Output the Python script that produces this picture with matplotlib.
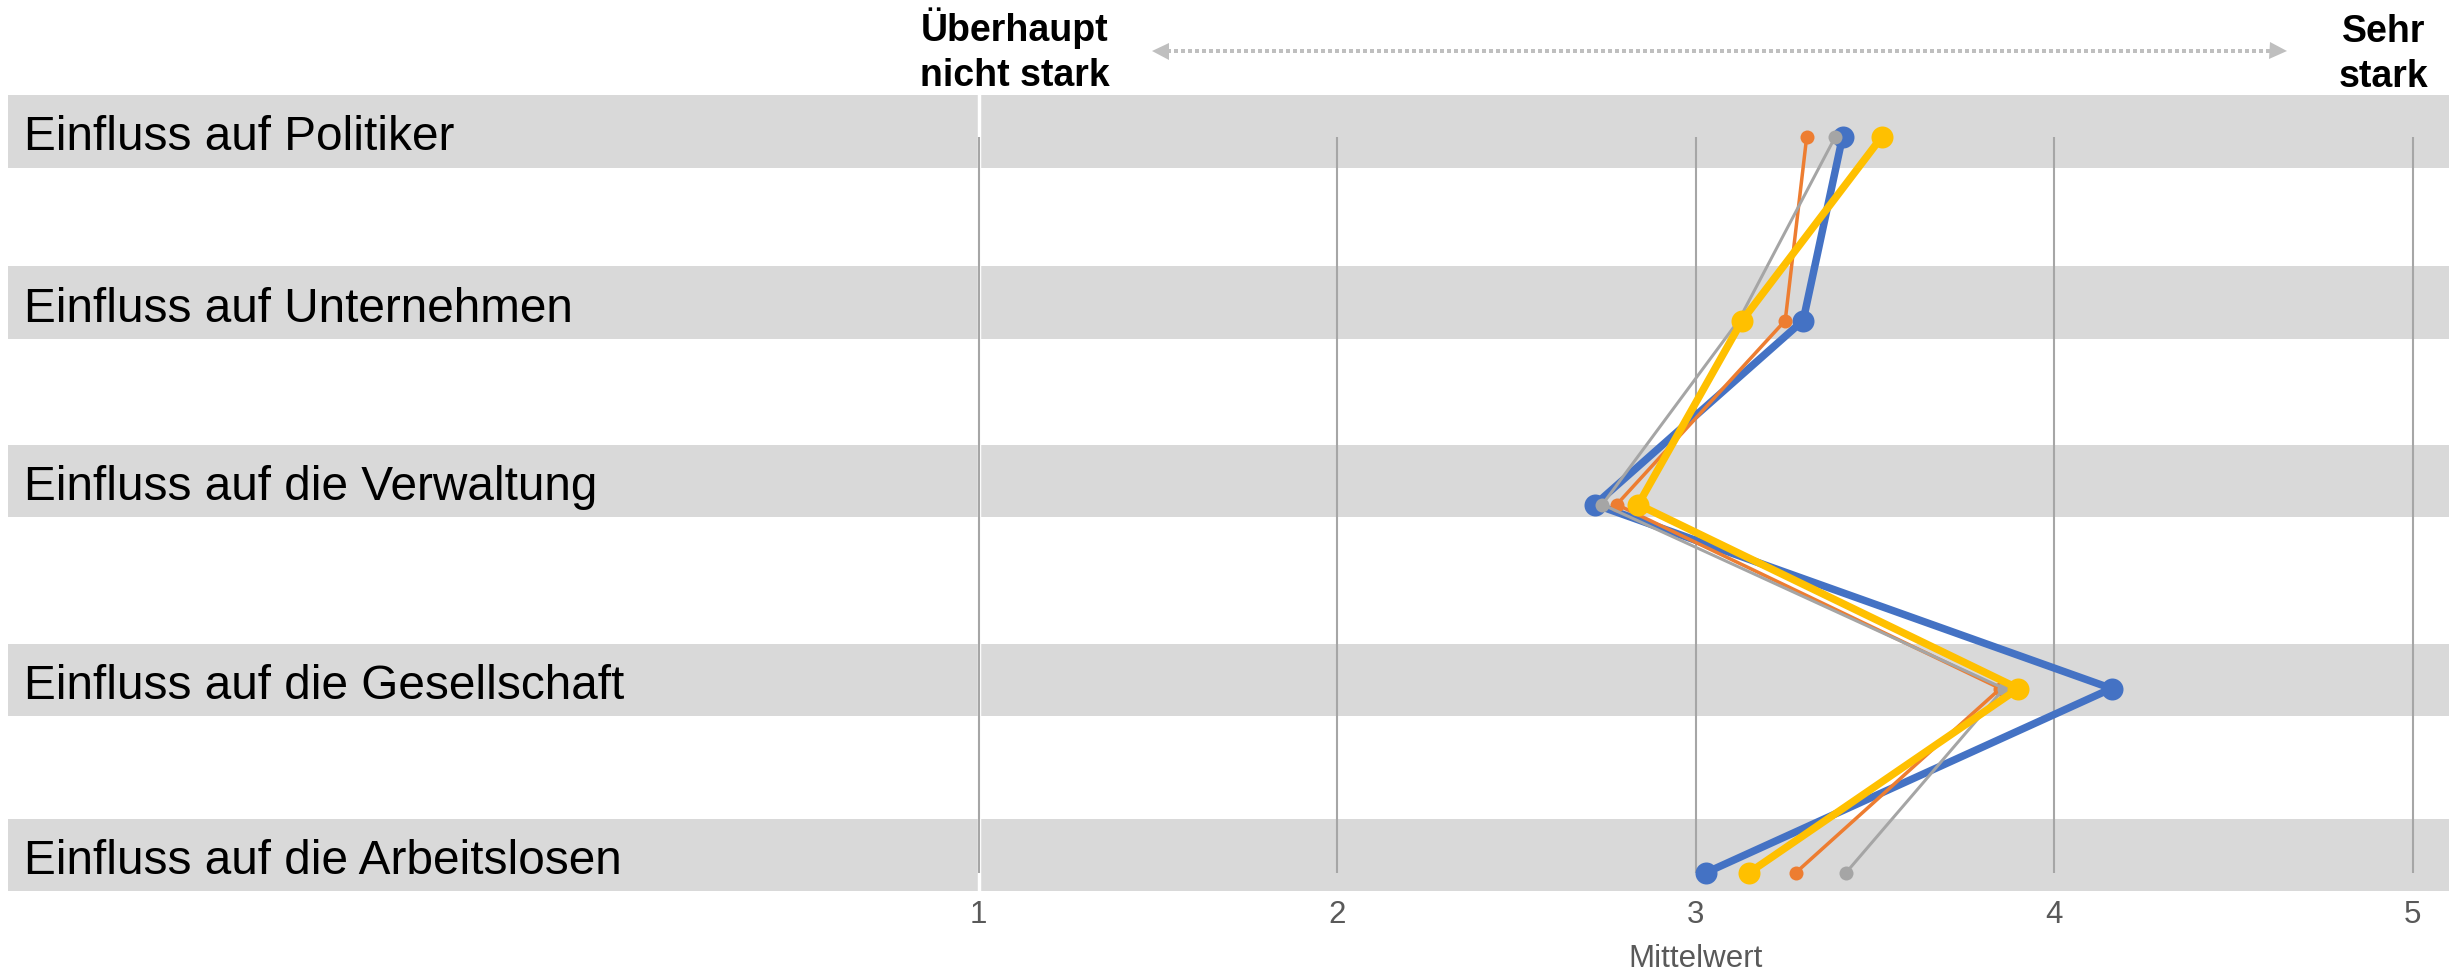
import matplotlib
matplotlib.use("Agg")
import matplotlib.pyplot as plt
from matplotlib.patches import Rectangle
from matplotlib.transforms import blended_transform_factory
import numpy as np

# ---------------- data ----------------
categories = [
    "Einfluss auf Politiker",
    "Einfluss auf Unternehmen",
    "Einfluss auf die Verwaltung",
    "Einfluss auf die Gesellschaft",
    "Einfluss auf die Arbeitslosen",
]
x_ticks = [1, 2, 3, 4, 5]
x_label = "Mittelwert"
scale_low = "Überhaupt\nnicht stark"
scale_high = "Sehr\nstark"

series_names = ["Gruppe 1", "Gruppe 2", "Gruppe 3", "Gruppe 4"]
values_blue = [3.41, 3.30, 2.72, 4.16, 3.03]
values_orange = [3.31, 3.25, 2.78, 3.85, 3.28]
values_gray = [3.39, 3.12, 2.74, 3.86, 3.42]
values_yellow = [3.52, 3.13, 2.84, 3.90, 3.15]

# ---------------- style / layout ----------------
plt.rcParams['font.family'] = ['Liberation Sans', 'DejaVu Sans']
W, H, DPI = 2456, 973, 100
PT = 72 / DPI  # points per pixel

series_colors = ['#4472C4', '#ED7D31', '#A5A5A5', '#FFC000']
series_lw_px = [7.5, 3.5, 3, 7.5]
series_ms_px = [22, 14, 14, 22]

band_px = [(95, 168), (266, 339), (445, 517), (644, 716), (819, 891)]
band_x0, band_x1 = 8, 2449
x1_px, x5_px = 978.5, 2412.7          # pixel position of x=1 and x=5
y_first_px, y_last_px = 136.5, 872.5  # pixel position of first / last category

fig = plt.figure(figsize=(W / DPI, H / DPI), dpi=DPI)

# background layer in pixel coordinates
bg = fig.add_axes([0, 0, 1, 1])
bg.set_xlim(0, W)
bg.set_ylim(H, 0)
bg.axis('off')

for (t, b), label in zip(band_px, categories):
    bg.add_patch(Rectangle((band_x0, t), band_x1 - band_x0, b - t,
                           facecolor='#D9D9D9', edgecolor='none'))
    bg.text(24, (t + b) / 2 + 19, label, fontsize=34.4, color='black',
            ha='left', va='baseline')

# header
bg.text(1015, 7, scale_low, fontsize=27, fontweight='bold', color='black',
        ha='center', va='top', linespacing=1.32)
bg.text(2384, 14, scale_high, fontsize=27, fontweight='bold', color='black',
        ha='center', va='top', linespacing=1.32)
arrow_y = 51
bg.plot([1167, 2271], [arrow_y, arrow_y], color='#BFBFBF', lw=4 * PT,
        linestyle=(0, (1.0, 0.75)), solid_capstyle='butt', dash_capstyle='butt')
bg.plot([1160], [arrow_y], marker='<', color='#BFBFBF', markersize=17 * PT,
        markeredgewidth=0)
bg.plot([2278], [arrow_y], marker='>', color='#BFBFBF', markersize=17 * PT,
        markeredgewidth=0)

# data axes
ax = fig.add_axes([band_x0 / W, 1 - band_px[-1][1] / H,
                   (band_x1 - band_x0) / W, (band_px[-1][1] - band_px[0][0]) / H])
ax.patch.set_alpha(0)
ux = (x5_px - x1_px) / (x_ticks[-1] - x_ticks[0])
ax.set_xlim(x_ticks[0] - (x1_px - band_x0) / ux, x_ticks[-1] + (band_x1 - x5_px) / ux)
uy = (y_last_px - y_first_px) / (len(categories) - 1)
ax.set_ylim(len(categories) - 1 + (band_px[-1][1] - y_last_px) / uy,
            -(y_first_px - band_px[0][0]) / uy)
for s in ax.spines.values():
    s.set_visible(False)

ypos = np.arange(len(categories))
ax.axvline(x_ticks[0], color='white', lw=2.5, zorder=0.5)
ax.vlines(x_ticks, ypos[0], ypos[-1], colors='#A6A6A6', lw=1.5, zorder=1)

all_series = [values_blue, values_orange, values_gray, values_yellow]
for i, (name, vals) in enumerate(zip(series_names, all_series)):
    ax.plot(vals, ypos, color=series_colors[i], lw=series_lw_px[i] * PT,
            marker='o', markersize=series_ms_px[i] * PT, markeredgewidth=0,
            solid_joinstyle='round', label=name, zorder=2 + i)

ax.set_xticks(x_ticks)
ax.set_xticklabels([str(t) for t in x_ticks])
ax.set_yticks([])
ax.tick_params(axis='x', length=0, pad=6.5, labelsize=22.5, labelcolor='#595959')
ax.set_xlabel(x_label, fontsize=22.5, color='#595959')
ax.xaxis.set_label_coords(3, -0.066,
                          transform=blended_transform_factory(ax.transData, ax.transAxes))

fig.savefig('out.png', dpi=DPI)
